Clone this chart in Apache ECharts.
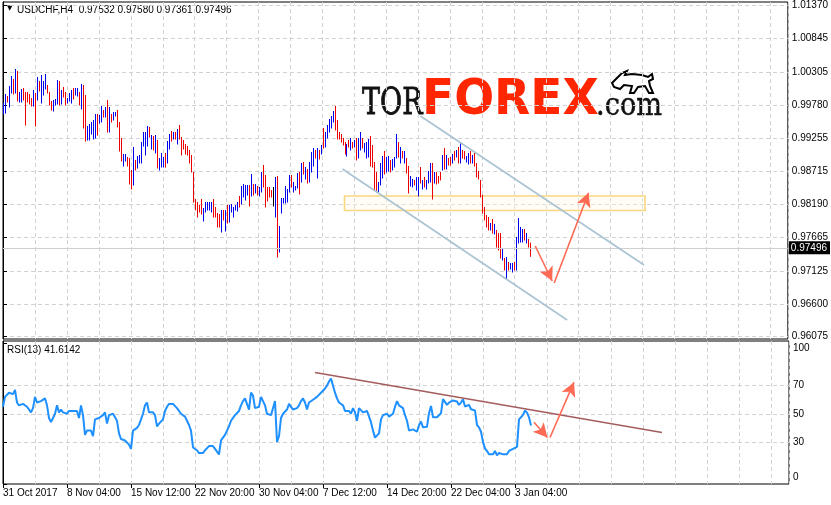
<!DOCTYPE html>
<html><head><meta charset="utf-8">
<script src="https://cdn.jsdelivr.net/npm/echarts@6/dist/echarts.min.js"></script>
<style>html,body{margin:0;padding:0;background:#fff}#c{width:831px;height:505px}</style>
</head><body><div id="c"></div>
<script>
// ---- data ----
const barHigh = [
0.99813,0.99957,0.99925,1.00085,1.00245,1.00197,1.00357,1.00325,0.99989,1.00037,
1.00053,0.99989,0.99989,0.99957,0.99893,1.00021,0.99973,1.00229,1.00165,1.00261,
1.00165,1.00277,1.00101,0.99989,0.99845,0.99861,0.99877,1.00181,1.00165,1.00021,
1.00069,0.99989,0.99893,0.99973,1.00021,1.00053,1.00053,1.00053,0.99989,1.00117,
1.00101,0.99941,0.99445,0.99477,0.99509,0.99541,0.99637,0.99637,0.99621,0.99765,
0.99701,0.99749,0.99861,0.99749,0.99637,0.99669,0.99669,0.99701,0.99509,0.99253,
0.98997,0.98997,0.98949,0.98933,0.98741,0.99109,0.98901,0.98965,0.98981,0.99189,
0.99349,0.99349,0.99445,0.99429,0.99301,0.99285,0.99301,0.99221,0.98933,0.99013,
0.98949,0.99013,0.99205,0.99317,0.99365,0.99349,0.99349,0.99397,0.99461,0.99269,
0.99221,0.99157,0.99125,0.99061,0.98981,0.98709,0.98277,0.98229,0.98181,0.98277,
0.98133,0.98229,0.98229,0.98229,0.98229,0.98277,0.98149,0.98053,0.98037,0.98101,
0.98101,0.98101,0.98181,0.98181,0.98197,0.98149,0.98181,0.98229,0.98325,0.98485,
0.98517,0.98501,0.98501,0.98501,0.98677,0.98517,0.98517,0.98485,0.98469,0.98709,
0.98821,0.98661,0.98469,0.98469,0.98421,0.98469,0.98629,0.98645,0.97845,0.98293,
0.98293,0.98485,0.98437,0.98661,0.98661,0.98549,0.98485,0.98693,0.98709,0.98853,
0.98869,0.98789,0.98757,0.98869,0.99029,0.99093,0.99061,0.99093,0.99061,0.99141,
0.99413,0.99349,0.99461,0.99557,0.99605,0.99685,0.99765,0.99541,0.99349,0.99317,
0.99253,0.99189,0.99157,0.99221,0.99253,0.99189,0.99221,0.99253,0.99253,0.99349,
0.99253,0.99173,0.99189,0.99237,0.99285,0.99141,0.98869,0.98709,0.98549,0.98853,
0.98965,0.99045,0.98949,0.98965,0.98901,0.98917,0.98949,0.99317,0.99189,0.99109,
0.99045,0.99045,0.98933,0.98805,0.98645,0.98597,0.98581,0.98629,0.98629,0.98789,
0.98581,0.98629,0.98581,0.98725,0.98853,0.98853,0.98709,0.98709,0.98645,0.98709,
0.98981,0.99093,0.98981,0.98933,0.98949,0.98997,0.99045,0.99061,0.99109,0.99173,
0.99061,0.99045,0.98965,0.99013,0.99045,0.98981,0.99013,0.98853,0.98725,0.98581,
0.98341,0.98149,0.98021,0.97989,0.97893,0.97957,0.97877,0.97781,0.97733,0.97733,
0.97493,0.97333,0.97349,0.97269,0.97253,0.97253,0.97269,0.97669,0.97973,0.97829,
0.97797,0.97797,0.97733,0.97637,0.97580];
const barLow = [
0.99637,0.99653,0.99829,0.99749,0.99973,0.99957,0.99973,0.99845,0.99829,0.99829,
0.99861,0.99461,0.99829,0.99797,0.99765,0.99765,0.99445,0.99861,1.00005,0.99813,
0.99941,1.00037,0.99973,0.99781,0.99701,0.99685,0.99781,0.99797,0.99781,0.99797,
0.99909,0.99781,0.99813,0.99845,0.99813,0.99877,0.99941,0.99925,0.99781,0.99717,
0.99413,0.99205,0.99221,0.99221,0.99317,0.99237,0.99253,0.99301,0.99493,0.99509,
0.99589,0.99589,0.99349,0.99349,0.99509,0.99541,0.99605,0.99429,0.99045,0.98885,
0.98805,0.98885,0.98805,0.98517,0.98437,0.98501,0.98741,0.98773,0.98853,0.98853,
0.99125,0.98981,0.99125,0.99269,0.99077,0.99061,0.99013,0.98773,0.98741,0.98789,
0.98789,0.98789,0.98853,0.99077,0.99205,0.99237,0.99237,0.99157,0.99237,0.98981,
0.99077,0.98997,0.98981,0.98853,0.98709,0.98229,0.98101,0.97989,0.98069,0.98037,
0.97925,0.98069,0.98101,0.98101,0.98069,0.97989,0.97989,0.97829,0.97829,0.97749,
0.97941,0.97765,0.97893,0.97909,0.98069,0.97989,0.98101,0.98085,0.98149,0.98197,
0.98309,0.98261,0.98341,0.98165,0.98325,0.98341,0.98373,0.98341,0.98325,0.98389,
0.98469,0.98149,0.98245,0.98309,0.98309,0.98165,0.97989,0.97349,0.97429,0.98053,
0.98213,0.98213,0.98229,0.98389,0.98469,0.98389,0.98421,0.98453,0.98357,0.98549,
0.98677,0.98597,0.98533,0.98549,0.98709,0.98805,0.98933,0.98613,0.98917,0.98997,
0.99093,0.99109,0.99253,0.99349,0.99413,0.99509,0.99381,0.99237,0.99237,0.99189,
0.99141,0.98997,0.98965,0.99109,0.99061,0.99093,0.99109,0.98901,0.98933,0.99061,
0.99093,0.99029,0.98933,0.98949,0.98805,0.98789,0.98421,0.98389,0.98389,0.98501,
0.98613,0.98677,0.98709,0.98725,0.98709,0.98741,0.98789,0.98933,0.98949,0.98853,
0.98933,0.98853,0.98693,0.98373,0.98485,0.98469,0.98501,0.98421,0.98325,0.98533,
0.98437,0.98469,0.98437,0.98533,0.98549,0.98277,0.98533,0.98517,0.98533,0.98581,
0.98741,0.98757,0.98757,0.98821,0.98821,0.98853,0.98901,0.98949,0.98853,0.98853,
0.98933,0.98917,0.98869,0.98837,0.98853,0.98853,0.98805,0.98629,0.98597,0.98309,
0.98053,0.97941,0.97829,0.97781,0.97781,0.97733,0.97717,0.97509,0.97461,0.97333,
0.97301,0.97141,0.96997,0.97141,0.97157,0.97109,0.97141,0.97141,0.97573,0.97589,
0.97589,0.97621,0.97573,0.97509,0.97361];
// 1 = up bar (blue), -1 = down bar (red), 0 = unchanged (black)
const barDir = [
1,1,-1,1,1,-1,1,-1,1,1,
-1,-1,-1,-1,-1,1,-1,1,-1,1,
1,1,-1,-1,-1,1,1,1,-1,1,
-1,-1,1,1,1,-1,1,1,-1,1,
-1,-1,1,1,1,1,1,-1,1,1,
-1,1,-1,1,-1,1,1,-1,-1,-1,
1,1,-1,-1,-1,1,-1,1,1,1,
1,1,1,-1,1,-1,1,-1,1,1,
1,-1,1,1,-1,1,-1,1,-1,-1,
-1,-1,-1,-1,-1,-1,-1,-1,-1,-1,
1,1,1,1,1,-1,-1,-1,-1,1,
-1,1,-1,1,1,1,1,1,-1,1,
1,1,1,-1,1,-1,1,-1,1,1,
-1,-1,-1,-1,-1,0,1,-1,1,1,
1,1,1,1,-1,1,1,1,-1,1,
-1,1,-1,1,1,1,-1,1,-1,1,
-1,1,1,1,1,1,-1,-1,-1,-1,
-1,-1,1,-1,1,-1,1,-1,1,1,
-1,1,1,1,-1,-1,-1,-1,1,1,
1,-1,1,1,-1,1,1,1,-1,1,
-1,1,-1,-1,1,1,-1,1,1,-1,
1,-1,1,1,1,-1,1,-1,-1,-1,
1,-1,1,-1,-1,1,-1,1,-1,1,
-1,-1,1,1,-1,1,-1,-1,-1,-1,
-1,-1,-1,-1,1,-1,1,-1,-1,-1,
1,-1,1,-1,1,1,-1,1,1,1,
1,-1,1,-1,-1];
const rsiValues = [
55,62,63,65,66,64,67,58,56,57,
57,56,55,54,51,54,62,58,57,59,
58,61,56,47,44,47,50,56,51,53,
51,50,50,52,53,52,53,52,47,56,
49,35,38,39,38,34,46,45,47,48,
49,51,43,49,50,50,50,45,36,32,
32,31,31,28,25,38,39,40,42,46,
50,56,58,51,52,51,49,41,43,43,
46,52,55,57,58,57,56,54,53,50,
50,48,45,42,38,26,25,24,22,22,
22,24,25,27,28,27,25,23,21,31,
32,35,34,41,45,46,49,50,52,56,
59,61,61,53,65,63,54,53,55,62,
63,56,50,50,49,48,59,30,34,47,
50,51,53,57,58,53,54,54,56,59,
61,58,53,58,59,60,61,62,63,65,
66,68,70,73,75,76,65,61,58,57,
56,52,51,52,50,54,51,45,54,54,
51,50,52,48,44,38,33,32,36,46,
49,50,50,48,47,50,55,59,56,55,
54,49,45,38,38.4,38.9,37.9,37.2,42,44.4,
40.3,38.9,40.8,50.4,55.6,47.5,48,47.5,46.8,50.4,
60.4,59.5,56.3,58,58.7,59.5,59.9,58.7,56.3,58,
60.4,55.2,56.3,56.3,53.2,52.8,52.3,42,40.3,37.2,
30,25.2,23.5,21.1,22.1,21.1,23.5,20.4,22.1,22.1,
21.1,19.7,21.1,23.5,24.5,25,25.9,26.4,46,47.5,
49.2,52.3,50.8,47.5,41.6];
const timeLabels = ['31 Oct 2017','8 Nov 04:00','15 Nov 12:00','22 Nov 20:00','30 Nov 04:00','7 Dec 12:00','14 Dec 20:00','22 Dec 04:00','3 Jan 04:00'];
const timeLabelBars = [0,32,64,96,128,160,192,224,256];
const priceTicks = [0.96075,0.96600,0.97125,0.97665,0.98190,0.98715,0.99255,0.99780,1.00305,1.00845,1.01370];
const rsiTicks = [0,30,50,70,100];
const rsiLevels = [30,50,70];
const lastPrice = 0.97496;
const headerText = 'USDCHF,H4  0.97532 0.97580 0.97361 0.97496';
const rsiHeaderText = 'RSI(13) 41.6142';
// chart annotations (bar index, price / RSI value)
const upperChannel = [[209,0.99605],[321,0.97221]];
const lowerChannel = [[170,0.98757],[282.5,0.96341]];
const zoneBox = [[171,0.98325],[321.5,0.98093]];
const priceArrows = [[[266.5,0.97525],[275,0.96965]],[[276,0.96933],[293.2,0.98378]]];
const rsiTrend = [[156,79.4],[329.5,36.7]];
const rsiArrows = [[[265.5,44.0],[272.2,33.1]],[[273.5,33.1],[285.5,72.5]]];

const FONT = 'Liberation Sans';
const GRIDC = '#d2d2d2';
const chart = echarts.init(document.getElementById('c'), null, {renderer:'canvas'});

const arrowStyle = {color:'#ff6a55', width:1.6, type:'solid'};
const channelStyle = {color:'#a9c3d3', width:1.6, type:'solid'};
function seg(a, b, style){
  return [{coord:a, symbol:'none', lineStyle:style, label:{show:false}}, {coord:b, symbol:'none'}];
}
function arrow(a, b){
  return [{coord:a, symbol:'none', lineStyle:arrowStyle, label:{show:false}}, {coord:b, symbol:'arrow', symbolSize:[11,14]}];
}

chart.setOption({
  animation:false,
  backgroundColor:'#fff',
  grid:[
    {left:3, top:2, width:786, height:337, show:true, borderColor:'#000', borderWidth:1, backgroundColor:'transparent'},
    {left:3, top:341, width:786, height:143, show:true, borderColor:'#000', borderWidth:1, backgroundColor:'transparent'}
  ],
  xAxis:[
    {gridIndex:0, type:'value', min:0, max:393, interval:16, axisLine:{show:false}, axisTick:{show:false}, axisLabel:{show:false},
     splitLine:{show:true, lineStyle:{color:GRIDC, type:[4,3], width:1}}},
    {gridIndex:1, type:'value', min:0, max:393, interval:16, axisLine:{show:false}, axisTick:{show:false}, axisLabel:{show:false},
     splitLine:{show:true, lineStyle:{color:GRIDC, type:[4,3], width:1}}},
    {gridIndex:1, type:'value', min:0, max:393, position:'bottom', axisLine:{show:false},
     axisTick:{show:true, length:4, customValues:timeLabelBars, lineStyle:{color:'#000'}},
     axisLabel:{show:true, customValues:timeLabelBars, margin:4, align:'left', color:'#000', fontFamily:FONT, fontSize:10,
       formatter:v => { const k = timeLabelBars.indexOf(Math.round(v)); return k>=0 ? timeLabels[k] : ''; }},
     splitLine:{show:false}}
  ],
  yAxis:[
    {gridIndex:0, type:'value', position:'right', min:0.96037, max:1.01429, scale:true,
     axisLine:{show:true, lineStyle:{color:'#000'}},
     axisTick:{show:true, length:4, customValues:priceTicks, lineStyle:{color:'#000'}},
     axisLabel:{show:true, customValues:priceTicks, margin:4, color:'#000', fontFamily:FONT, fontSize:10, formatter:v=>v.toFixed(5)},
     splitLine:{show:true, lineStyle:{color:GRIDC, type:[4,3], width:1}}},
    {gridIndex:1, type:'value', position:'right', min:0, max:101.8,
     axisLine:{show:true, lineStyle:{color:'#000'}},
     axisTick:{show:true, length:4, customValues:rsiTicks, lineStyle:{color:'#000'}},
     axisLabel:{show:true, customValues:rsiTicks, margin:4, color:'#000', fontFamily:FONT, fontSize:10,
       formatter:v => v===100 ? '{d|100}' : (v===0 ? '{u|0}' : String(v)),
       rich:{d:{padding:[10,0,0,0], fontFamily:FONT, fontSize:10, color:'#000'}, u:{padding:[0,0,14,0], fontFamily:FONT, fontSize:10, color:'#000'}}},
     splitLine:{show:false}},
    {gridIndex:1, type:'value', position:'right', min:0, max:101.8,
     axisLine:{show:false}, axisLabel:{show:false},
     axisTick:{show:false, customValues:rsiLevels},
     splitLine:{show:true, lineStyle:{color:GRIDC, type:[4,3], width:1}}}
  ],
  series:[
    {
      type:'line', xAxisIndex:0, yAxisIndex:0, silent:true, symbol:'none', data:[],
      markArea:{silent:true, data:[[{coord:zoneBox[0]},{coord:zoneBox[1]}]],
        itemStyle:{color:'rgba(255,248,225,0.35)', borderColor:'#f9d680', borderWidth:1.6}},
      markLine:{silent:true, symbol:'none', animation:false, precision:5,
        data:[
          [{coord:[0,lastPrice], symbol:'none', lineStyle:{color:'#cfcfcf', width:1, type:'solid'},
            label:{show:true, position:'end', distance:1, formatter:'0.97496', color:'#fff', backgroundColor:'#000',
              fontFamily:FONT, fontSize:10, padding:[2,3,1,2]}},
           {coord:[393,lastPrice], symbol:'none'}],
          seg(upperChannel[0], upperChannel[1], channelStyle),
          seg(lowerChannel[0], lowerChannel[1], channelStyle),
          arrow(priceArrows[0][0], priceArrows[0][1]),
          arrow(priceArrows[1][0], priceArrows[1][1])
        ]
      }
    },
    {
      type:'custom', xAxisIndex:0, yAxisIndex:0, silent:true, z:3,
      data: barHigh.map((h,i)=>[i,h,barLow[i]]),
      encode:{x:0, y:[1,2]},
      renderItem:(params, api) => {
        const i = api.value(0);
        const p1 = api.coord([i, api.value(1)]);
        const p2 = api.coord([i, api.value(2)]);
        const d = barDir[params.dataIndex];
        const x = Math.round(p1[0]) + 0.5;
        return {type:'line', shape:{x1:x, y1:p1[1], x2:x, y2:p2[1]+0.5},
          style:{stroke: d>0 ? '#0000f0' : (d<0 ? '#ee0000' : '#000000'), lineWidth:1}};
      }
    },
    {
      type:'line', xAxisIndex:1, yAxisIndex:1, silent:true, showSymbol:false, symbol:'none',
      data: rsiValues.map((v,i)=>[i,v]),
      lineStyle:{color:'#1e90ff', width:2}, itemStyle:{color:'#1e90ff'},
      markLine:{silent:true, symbol:'none', animation:false,
        data:[
          seg(rsiTrend[0], rsiTrend[1], {color:'#a45c5c', width:1.6, type:'solid'}),
          arrow(rsiArrows[0][0], rsiArrows[0][1]),
          arrow(rsiArrows[1][0], rsiArrows[1][1])
        ]
      }
    }
  ],
  graphic:[
    {type:'text', left:7, top:5, style:{text:'\u25BC', font:'7px "DejaVu Sans"', fill:'#000'}},
    {type:'text', left:17, top:5, style:{text:headerText, font:'10px "Liberation Sans"', fill:'#000'}},
    {type:'text', left:7, top:345, style:{text:rsiHeaderText, font:'10px "Liberation Sans"', fill:'#000'}},
    {type:'text', x:362, y:104, scaleX:0.73, style:{text:'TOR', font:'37px "DejaVu Serif"', fill:'#111', stroke:'#111', lineWidth:0.8, verticalAlign:'middle', align:'left'}},
    {type:'text', x:422, y:101, scaleX:0.96, style:{text:'FOREX', font:'bold 49px "DejaVu Sans"', fill:'#ff2600', verticalAlign:'middle', align:'left'}},
    {type:'text', x:596, y:107, scaleX:0.85, style:{text:'.com', font:'32px "DejaVu Serif"', fill:'#111', stroke:'#111', lineWidth:0.5, verticalAlign:'middle', align:'left'}},
    {type:'polygon', x:608, y:71, shape:{points:[[4,12],[10,6],[14,2],[19,0],[17,4],[24,3],[34,4],[40,6],[44,3],[45,8],[41,10],[42,15],[45,22],[41,22],[37,15],[30,16],[26,22],[22,22],[24,15],[16,14],[12,18],[6,16]]},
     style:{fill:'#fff', stroke:'#000', lineWidth:2}}
  ]
});
</script>
</body></html>
